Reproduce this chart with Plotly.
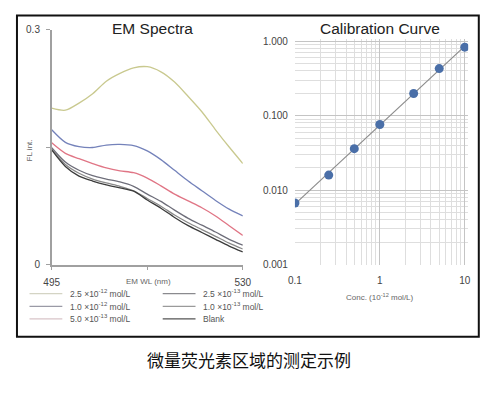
import numpy as np
import plotly.graph_objects as go

# ---------------- data ----------------
wavelength = [495, 497.5, 500, 502.5, 505, 507.5, 510, 512.5, 515, 517.5, 520, 522.5, 525, 527.5, 530]
fl_2_5e12 = [0.1996, 0.197, 0.206, 0.218, 0.234, 0.244, 0.251, 0.2525, 0.246, 0.233, 0.2145, 0.195, 0.172, 0.150, 0.129]
fl_1_0e12 = [0.172, 0.156, 0.1506, 0.1494, 0.1525, 0.1533, 0.1519, 0.145, 0.1339, 0.1202, 0.1066, 0.0942, 0.0818, 0.0707, 0.062]
fl_5_0e13 = [0.1553, 0.1419, 0.1351, 0.1289, 0.1233, 0.1196, 0.1172, 0.1103, 0.1004, 0.0899, 0.0812, 0.0725, 0.062, 0.0496, 0.0372]
fl_2_5e13 = [0.1491, 0.1308, 0.1203, 0.1134, 0.1091, 0.1054, 0.0998, 0.0899, 0.0806, 0.0694, 0.0589, 0.0502, 0.0415, 0.0322, 0.0248]
fl_1_0e13 = [0.1475, 0.1277, 0.1165, 0.1091, 0.1041, 0.0998, 0.0942, 0.0843, 0.0744, 0.0632, 0.0533, 0.0446, 0.036, 0.0273, 0.0198]
fl_blank = [0.1463, 0.1252, 0.1128, 0.1066, 0.1017, 0.0979, 0.0936, 0.0824, 0.0719, 0.0601, 0.0496, 0.0409, 0.0322, 0.0236, 0.0161]

series_labels = ["2.5 ×10<sup>-12</sup> mol/L", "1.0 ×10<sup>-12</sup> mol/L", "5.0 ×10<sup>-13</sup> mol/L",
                 "2.5 ×10<sup>-13</sup> mol/L", "1.0 ×10<sup>-13</sup> mol/L", "Blank"]
series_values = [fl_2_5e12, fl_1_0e12, fl_5_0e13, fl_2_5e13, fl_1_0e13, fl_blank]
series_colors = ["#c9c98f", "#7482ba", "#e07585", "#6e6e7a", "#8a8a8a", "#3c3c3c"]
legend_colors = ["#d4d4c4", "#9a9aa6", "#d8c4c8", "#8a8a8e", "#9a9a9a", "#555555"]

conc = [0.1, 0.25, 0.5, 1, 2.5, 5, 10]
fl_cal = [0.0067, 0.0159, 0.036, 0.076, 0.198, 0.428, 0.83]

spec_xticks = [495, 530]
spec_xlabels = ["495", "530"]
spec_yticks = [0, 0.3]
spec_ylabels = ["0", "0.3"]
cal_xticks = [0.1, 1, 10]
cal_xlabels = ["0.1", "1", "10"]
cal_yticks = [0.001, 0.01, 0.1, 1]
cal_ylabels = ["0.001", "0.010", "0.100", "1.000"]

# ---------------- figure ----------------
# the page body keeps an 8px margin; size the figure so the page is exactly 504x397
OFF = 8
W, H = 504 - 2 * OFF, 397 - 2 * OFF
FONT = "Liberation Sans, Arial, sans-serif"


def px_x(px):
    return (px - OFF) / W


def px_y(py):
    return 1 - (py - OFF) / H


fig = go.Figure()

for vals, col, lab in zip(series_values, series_colors, series_labels):
    fig.add_trace(go.Scatter(x=wavelength, y=vals, mode="lines", name=lab,
                             line=dict(color=col, width=1.3, shape="spline", smoothing=0.8),
                             xaxis="x", yaxis="y", showlegend=False, hoverinfo="skip"))

coef = np.polyfit(np.log10(conc), np.log10(fl_cal), 1)
fit_x = np.array([min(conc), max(conc)])
fit_y = 10 ** np.polyval(coef, np.log10(fit_x))
fig.add_trace(go.Scatter(x=fit_x, y=fit_y, mode="lines", line=dict(color="#8c8c8c", width=1.2),
                         xaxis="x2", yaxis="y2", showlegend=False, hoverinfo="skip"))
fig.add_trace(go.Scatter(x=conc, y=fl_cal, mode="markers",
                         marker=dict(color="#4a6fa8", size=9),
                         xaxis="x2", yaxis="y2", showlegend=False))

tickfont = dict(family=FONT, size=10, color="#444")

fig.update_layout(
    width=W, height=H,
    margin=dict(l=0, r=0, t=0, b=0),
    paper_bgcolor="white", plot_bgcolor="white",
    xaxis=dict(domain=[px_x(45), px_x(243)], range=[495, 530], showline=True, linecolor="#a0a0a0",
               linewidth=1.5, ticks="outside", ticklen=4, tickcolor="#a0a0a0",
               tickvals=spec_xticks, ticktext=spec_xlabels, anchor="y", ticklabelstandoff=4,
               minor=dict(ticks="outside", ticklen=4, tickcolor="#a0a0a0", tick0=495, dtick=17.5, showgrid=False),
               showgrid=False, zeroline=False, tickfont=tickfont),
    yaxis=dict(domain=[px_y(267), px_y(25)], range=[0, 0.3], showline=True, linecolor="#a0a0a0",
               linewidth=1.5, ticks="outside", ticklen=4, tickcolor="#a0a0a0",
               tickvals=spec_yticks, ticktext=spec_ylabels, anchor="x", ticklabelstandoff=4,
               minor=dict(ticks="outside", ticklen=4, tickcolor="#a0a0a0", tick0=0, dtick=0.15, showgrid=False),
               showgrid=False, zeroline=False, tickfont=tickfont),
    xaxis2=dict(domain=[px_x(297), px_x(476.5)], type="log", range=[-1, 1.04], anchor="y2",
                tickvals=cal_xticks, ticktext=cal_xlabels, ticks="", showline=False, zeroline=False,
                showgrid=True, gridcolor="#c4c4c4", gridwidth=1,
                minor=dict(showgrid=True, gridcolor="#dedede", dtick="D1", ticks=""),
                tickfont=tickfont, ticklabelstandoff=8),
    yaxis2=dict(domain=[px_y(267), px_y(34.7)], type="log", range=[-3, 0.03], anchor="x2",
                tickvals=cal_yticks, ticktext=cal_ylabels, ticks="", showline=False, zeroline=False,
                showgrid=True, gridcolor="#c4c4c4", gridwidth=1,
                minor=dict(showgrid=True, gridcolor="#dedede", dtick="D1", ticks=""),
                tickfont=tickfont, ticklabelstandoff=6),
)

annotations = [
    dict(text="EM Spectra", x=px_x(149), y=px_y(24), font=dict(family=FONT, size=15.5, color="#222")),
    dict(text="Calibration Curve", x=px_x(385), y=px_y(24), font=dict(family=FONT, size=15.5, color="#222")),
    dict(text="EM WL (nm)", x=px_x(145), y=px_y(284), font=dict(family=FONT, size=8, color="#666")),
    dict(text="FL int.", x=px_x(22), y=px_y(150), textangle=-90, font=dict(family=FONT, size=8, color="#666")),
    dict(text="Conc. (10<sup>-12</sup> mol/L)", x=px_x(385), y=px_y(300), font=dict(family=FONT, size=8, color="#666")),
    dict(text="微量荧光素区域的测定示例", x=px_x(249), y=px_y(365),
         font=dict(family="Noto Sans CJK SC", size=17, color="#111")),
]

shapes = [dict(type="rect", xref="paper", yref="paper", x0=px_x(9), x1=px_x(487.5), y0=px_y(10.5), y1=px_y(341.5),
               line=dict(color="#111", width=2))]

# manual two-column legend
rows = [297, 310, 323]
cols = [(22, 56, 62), (160, 194, 200)]
order = [0, 3, 1, 4, 2, 5]
for k, idx in enumerate(order):
    r, c = divmod(k, 2)
    x0, x1, xt = cols[c]
    y = rows[r]
    shapes.append(dict(type="line", xref="paper", yref="paper", x0=px_x(x0), x1=px_x(x1),
                       y0=px_y(y), y1=px_y(y), line=dict(color=legend_colors[idx], width=1.2)))
    annotations.append(dict(text=series_labels[idx], x=px_x(xt), y=px_y(y), xanchor="left",
                            font=dict(family=FONT, size=8.5, color="#555")))

for a in annotations:
    a.setdefault("xref", "paper")
    a.setdefault("yref", "paper")
    a.setdefault("showarrow", False)
    a.setdefault("xanchor", "center")
    a.setdefault("yanchor", "middle")

fig.update_layout(annotations=annotations, shapes=shapes)

fig.write_html("out.html", config={"displayModeBar": False})
